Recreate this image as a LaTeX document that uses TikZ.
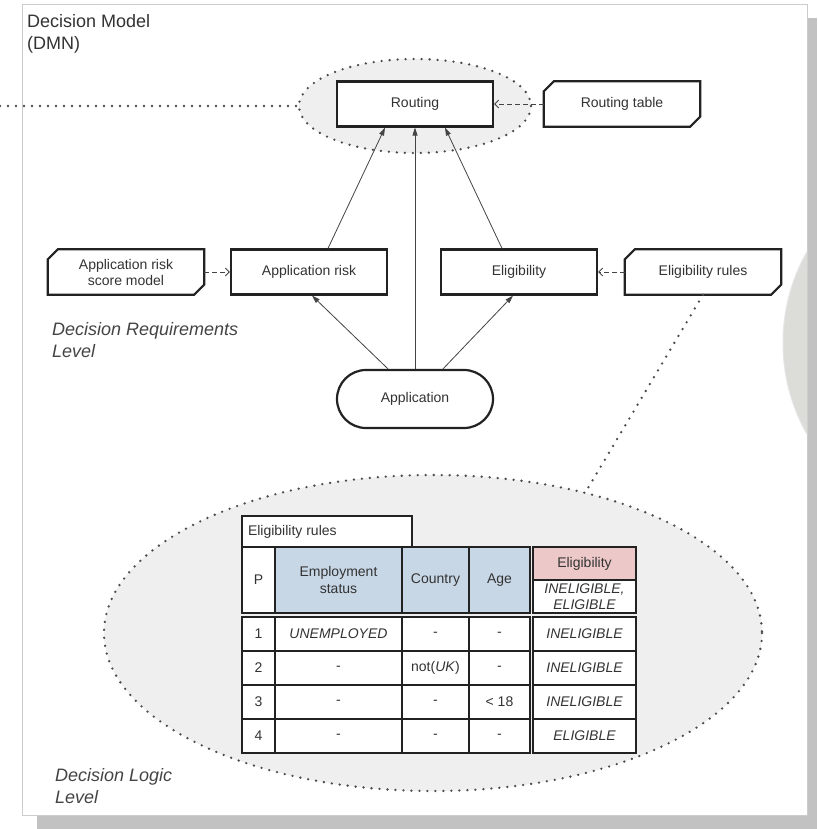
\documentclass[tikz,border=0pt]{standalone}
\usepackage{fontspec}
\setmainfont{Liberation Sans}
\usetikzlibrary{calc,arrows.meta,shapes.geometric}
\definecolor{txt}{HTML}{333333}
\definecolor{lvl}{HTML}{444444}
\definecolor{edge}{HTML}{222222}
\definecolor{arr}{HTML}{444444}
\definecolor{halo}{HTML}{EFEFEF}
\definecolor{shadow}{HTML}{C2C2C2}
\definecolor{frame}{HTML}{CCCCCC}
\definecolor{hblue}{HTML}{C8D7E6}
\definecolor{hpink}{HTML}{EDC8C8}
\definecolor{disc}{HTML}{DCDCD8}
\newcommand\knmframe[1]{%
  \draw[knmline] ($(#1.north west)+(10,0)$) -- (#1.north east) -- ($(#1.south east)+(0,-10)$)
    -- ($(#1.south east)+(-10,0)$) -- (#1.south west) -- ($(#1.north west)+(0,10)$) -- cycle;}
\newcommand\tcell[7]{%
  \pgfmathsetmacro\tcW{#4-#2}\pgfmathsetmacro\tcH{#5-#3}%
  \node[tcell,fill=#6,minimum width=\tcW pt,minimum height=\tcH pt] (#1) at ({(#2+#4)/2},{(#3+#5)/2}) {#7};}
\begin{document}
\begin{tikzpicture}[x=1pt,y=-1pt,
  nfont/.style={font=\fontsize{14}{16}\selectfont},
  box/.style={nfont, draw=edge, line width=2.2pt, fill=white, minimum width=156pt, minimum height=45pt, inner sep=0pt, text=txt, align=center},
  knm/.style={nfont, fill=white, minimum width=156pt, minimum height=45pt, inner sep=0pt, text=txt, align=center},
  knmline/.style={draw=edge, line width=2.2pt, line join=miter},
  inputbox/.style={box, minimum height=58pt, rounded corners=29pt},
  req/.style={draw=arr, line width=0.8pt, -{Triangle[length=8pt,width=5pt]}},
  kreq/.style={draw=arr, line width=0.9pt, dash pattern=on 5pt off 3pt, -{Straight Barb[length=4pt,width=8pt]}},
  dotline/.style={draw=black!70, line width=2.6pt, line cap=round, dash pattern=on 0pt off 8pt},
  halonode/.style={ellipse, fill=halo, inner sep=0pt},
  lvltext/.style={font=\fontsize{18}{22}\selectfont\itshape, text=lvl, align=left, anchor=north west, inner sep=0pt},
  tcell/.style={draw=edge, line width=1.5pt, inner sep=0pt, font=\fontsize{14}{16.5}\selectfont, text=txt, align=center}
]
\useasboundingbox (0,0) rectangle (817,829);
% frame with shadow
\fill[shadow] (37,18) rectangle (817,829);
\draw[frame, line width=1pt, fill=white] (22,5) rectangle (807,815);
% partial disc on the right
\begin{scope}
  \clip (22,5) rectangle (807,815);
  \draw[white!80!gray, line width=1pt, fill=disc] (968,343) circle (185);
\end{scope}
% title
\node[font=\fontsize{18}{22}\selectfont, text=txt, align=left, anchor=north west, inner sep=0pt] (title) at (27,14) {Decision Model\\(DMN)};
% halo around routing
\node[halonode, minimum width=232pt, minimum height=94pt] (rz) at (415,106) {};
\draw[dotline] (rz.center) ellipse [x radius=116, y radius=47];
\coordinate (lend) at (0,106);
\draw[dotline] (lend) -- (rz.west);
% big logic halo
\node[halonode, minimum width=658pt, minimum height=316pt] (bz) at (433,633) {};
\draw[dotline] (bz.center) ellipse [x radius=329, y radius=158];
% decision requirement nodes
\node[box] (rout) at (415,104) {Routing};
\node[knm] (rtab) at (622,104) {Routing table};
\knmframe{rtab}
\node[knm] (arsm) at (126,272) {Application risk\\score model};
\knmframe{arsm}
\node[box] (ar) at (309,272) {Application risk};
\node[box] (el) at (519,272) {Eligibility};
\node[knm] (er) at (703,272) {Eligibility rules};
\knmframe{er}
\node[inputbox] (app) at (415,399) {Application};
% connectors
\draw[req] ($(app.north)+(-27,0)$) -- ($(ar.south)+(3,0)$);
\draw[req] (app.north) -- (rout.south);
\draw[req] ($(app.north)+(28,0)$) -- ($(el.south)+(-6,0)$);
\draw[req] ($(ar.north)+(19,0)$) -- ($(rout.south)+(-30,0)$);
\draw[req] ($(el.north)+(-17,0)$) -- ($(rout.south)+(30,0)$);
\draw[kreq] (rtab.west) -- (rout.east);
\draw[kreq] (arsm.east) -- (ar.west);
\draw[kreq] (er.west) -- (el.east);
\coordinate (dlend) at (588,488);
\draw[dotline] (er.south) -- (dlend);
% level labels
\node[lvltext] (drl) at (52,322) {Decision Requirements\\Level};
\node[lvltext] (dll) at (55,768) {Decision Logic\\Level};
% decision table
\tcell{tlab}{242}{516}{412}{547}{white}{\makebox[170pt][l]{\hspace*{6pt}Eligibility rules}}
\tcell{hp}{242}{547}{275}{613}{white}{P}
\tcell{hes}{275}{547}{402}{613}{hblue}{Employment\\status}
\tcell{hc}{402}{547}{469}{613}{hblue}{Country}
\tcell{ha}{469}{547}{530}{613}{hblue}{Age}
\tcell{hel}{533}{547}{636}{580}{hpink}{Eligibility}
\tcell{hev}{533}{580}{636}{613}{white}{\itshape INELIGIBLE,\\\itshape ELIGIBLE}
\foreach \r/\ya/\yb/\es/\co/\ag/\ou in {
  1/617/651/{\itshape UNEMPLOYED}/-/-/{\itshape INELIGIBLE},
  2/651/685/-/{not(\textit{UK})}/-/{\itshape INELIGIBLE},
  3/685/719/-/-/{< 18}/{\itshape INELIGIBLE},
  4/719/753/-/-/-/{\itshape ELIGIBLE}}{
  \tcell{p\r}{242}{\ya}{275}{\yb}{white}{\r}
  \tcell{es\r}{275}{\ya}{402}{\yb}{white}{\es}
  \tcell{c\r}{402}{\ya}{469}{\yb}{white}{\co}
  \tcell{a\r}{469}{\ya}{530}{\yb}{white}{\ag}
  \tcell{o\r}{533}{\ya}{636}{\yb}{white}{\ou}
}
\end{tikzpicture}
\end{document}
